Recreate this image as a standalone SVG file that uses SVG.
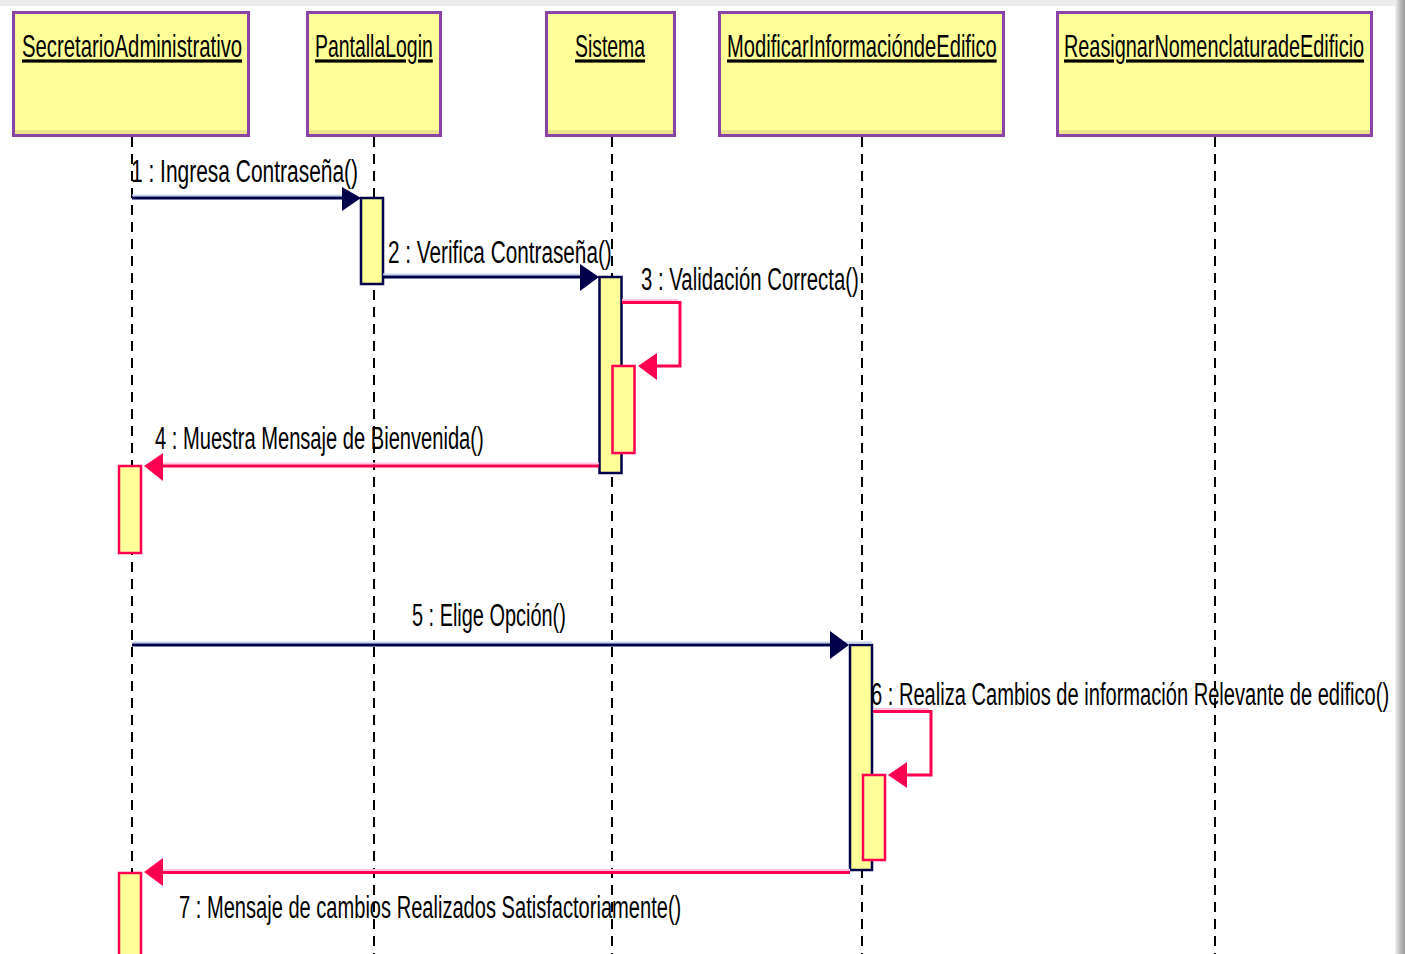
<svg xmlns="http://www.w3.org/2000/svg" width="1405" height="954" viewBox="0 0 1405 954">
  <style>
    .obj { fill: #ffff99; stroke: #8a44a8; stroke-width: 3; }
    .objshade { fill: #ece48a; }
    .title { font-family: "Liberation Sans", Arial, sans-serif; font-size: 32px; fill: #000; text-decoration: underline; }
    .life { stroke: #000; stroke-width: 2; stroke-dasharray: 10 7; fill: none; }
    .actN { fill: #ffff99; stroke: #00004a; stroke-width: 2.5; }
    .actR { fill: #ffff99; stroke: #ff0050; stroke-width: 2.5; }
    .msgN { stroke: #00004a; stroke-width: 3; fill: none; }
    .haloN { stroke: #c6d6ee; stroke-width: 2; fill: none; }
    .msgR { stroke: #ff0050; stroke-width: 3; fill: none; }
    .haloR { stroke: #ffc4e2; stroke-width: 2; fill: none; }
    .headN { fill: #00004a; }
    .headR { fill: #ff0050; }
    .lbl { font-family: "Liberation Sans", Arial, sans-serif; font-size: 31px; fill: #000; }
  </style>
  <defs>
    <linearGradient id="edgeShadow" x1="0" y1="0" x2="1" y2="0">
      <stop offset="0" stop-color="#f4f4f4"/>
      <stop offset="0.4" stop-color="#c8c8c8"/>
      <stop offset="1" stop-color="#9a9a9a"/>
    </linearGradient>
  </defs>

  <!-- canvas -->
  <rect x="0" y="0" width="1405" height="954" fill="#ffffff"/>
  <rect x="0" y="0" width="1405" height="6" fill="#ececec"/>
  <rect x="1395" y="0" width="10" height="954" fill="url(#edgeShadow)"/>

  <!-- lifelines -->
  <g id="lifelines">
    <line class="life" x1="132" y1="137" x2="132" y2="954"/>
    <line class="life" x1="374" y1="137" x2="374" y2="954"/>
    <line class="life" x1="612" y1="137" x2="612" y2="954"/>
    <line class="life" x1="862" y1="137" x2="862" y2="954"/>
    <line class="life" x1="1215" y1="137" x2="1215" y2="954"/>
  </g>

  <!-- objects (names drawn condensed: scale 0.62 horizontally) -->
  <g id="obj-secretario">
    <rect class="obj" x="13.5" y="12.5" width="235" height="123"/>
    <rect class="objshade" x="15" y="130" width="232" height="4"/>
    <text class="title" transform="translate(22,57) scale(0.62,1)" textLength="355" lengthAdjust="spacingAndGlyphs">SecretarioAdministrativo</text>
  </g>
  <g id="obj-pantalla">
    <rect class="obj" x="307.5" y="12.5" width="133" height="123"/>
    <rect class="objshade" x="309" y="130" width="130" height="4"/>
    <text class="title" transform="translate(315,57) scale(0.62,1)" textLength="190" lengthAdjust="spacingAndGlyphs">PantallaLogin</text>
  </g>
  <g id="obj-sistema">
    <rect class="obj" x="546.5" y="12.5" width="128" height="123"/>
    <rect class="objshade" x="548" y="130" width="125" height="4"/>
    <text class="title" transform="translate(575,57) scale(0.62,1)" textLength="113" lengthAdjust="spacingAndGlyphs">Sistema</text>
  </g>
  <g id="obj-modificar">
    <rect class="obj" x="719.5" y="12.5" width="284" height="123"/>
    <rect class="objshade" x="721" y="130" width="281" height="4"/>
    <text class="title" transform="translate(727,57) scale(0.62,1)" textLength="435" lengthAdjust="spacingAndGlyphs">ModificarInformacióndeEdifico</text>
  </g>
  <g id="obj-reasignar">
    <rect class="obj" x="1057.5" y="12.5" width="314" height="123"/>
    <rect class="objshade" x="1059" y="130" width="311" height="4"/>
    <text class="title" transform="translate(1064,57) scale(0.62,1)" textLength="484" lengthAdjust="spacingAndGlyphs">ReasignarNomenclaturadeEdificio</text>
  </g>

  <!-- activation bars -->
  <g id="activations">
    <rect class="actN" x="361" y="198" width="22" height="86"/>
    <rect class="actN" x="599.5" y="277" width="22" height="196"/>
    <rect class="actR" x="612.5" y="366" width="22" height="87"/>
    <rect class="actR" x="119" y="466" width="22" height="87"/>
    <rect class="actN" x="850" y="645" width="22" height="225"/>
    <rect class="actR" x="863" y="775" width="22" height="85"/>
    <rect class="actR" x="119" y="873" width="22" height="90"/>
  </g>

  <!-- messages -->
  <g id="connectors">
    <!-- 1 -->
    <line class="haloN" x1="132" y1="195.5" x2="345" y2="195.5"/>
    <line class="msgN" x1="132" y1="198" x2="350" y2="198"/>
    <polygon class="headN" points="342,187 361,198 342,211"/>
    <!-- 2 -->
    <line class="haloN" x1="383" y1="274.5" x2="585" y2="274.5"/>
    <line class="msgN" x1="383" y1="277" x2="588" y2="277"/>
    <polygon class="headN" points="580,264 599,277 580,291"/>
    <!-- 3 (self) -->
    <polyline class="haloR" points="622,300 678,300"/>
    <polyline class="msgR" points="622,302.5 680,302.5 680,366 650,366"/>
    <polygon class="headR" points="657,353 638,366 657,380"/>
    <!-- 4 -->
    <line class="haloR" x1="160" y1="463.5" x2="599" y2="463.5"/>
    <line class="msgR" x1="155" y1="466" x2="599" y2="466"/>
    <polygon class="headR" points="163,453 144,466 163,481"/>
    <!-- 5 -->
    <line class="haloN" x1="132" y1="642.5" x2="872" y2="642.5"/>
    <line class="msgN" x1="132" y1="645" x2="838" y2="645"/>
    <polygon class="headN" points="830,631 849,645 830,659"/>
    <!-- 6 (self) -->
    <polyline class="haloR" points="873,709 929,709"/>
    <polyline class="msgR" points="873,711.5 931,711.5 931,775 900,775"/>
    <polygon class="headR" points="907,762 888,775 907,788"/>
    <!-- 7 -->
    <line class="haloR" x1="160" y1="870" x2="850" y2="870"/>
    <line class="msgR" x1="155" y1="872.5" x2="850" y2="872.5"/>
    <polygon class="headR" points="163,858 144,872 163,886"/>
  </g>

  <!-- message labels (condensed: scale 0.66 horizontally) -->
  <g id="labels">
    <text class="lbl" transform="translate(131,182) scale(0.66,1)" textLength="344" lengthAdjust="spacingAndGlyphs">1 : Ingresa Contraseña()</text>
    <text class="lbl" transform="translate(388,263) scale(0.66,1)" textLength="339" lengthAdjust="spacingAndGlyphs">2 : Verifica Contraseña()</text>
    <text class="lbl" transform="translate(641,290) scale(0.66,1)" textLength="330" lengthAdjust="spacingAndGlyphs">3 : Validación Correcta()</text>
    <text class="lbl" transform="translate(155,449) scale(0.66,1)" textLength="498" lengthAdjust="spacingAndGlyphs">4 : Muestra Mensaje de Bienvenida()</text>
    <text class="lbl" transform="translate(412,626) scale(0.66,1)" textLength="233" lengthAdjust="spacingAndGlyphs">5 : Elige Opción()</text>
    <text class="lbl" transform="translate(871,705) scale(0.66,1)" textLength="785" lengthAdjust="spacingAndGlyphs">6 : Realiza Cambios de información Relevante de edifico()</text>
    <text class="lbl" transform="translate(179,918) scale(0.66,1)" textLength="761" lengthAdjust="spacingAndGlyphs">7 : Mensaje de cambios Realizados Satisfactoriamente()</text>
  </g>
</svg>
